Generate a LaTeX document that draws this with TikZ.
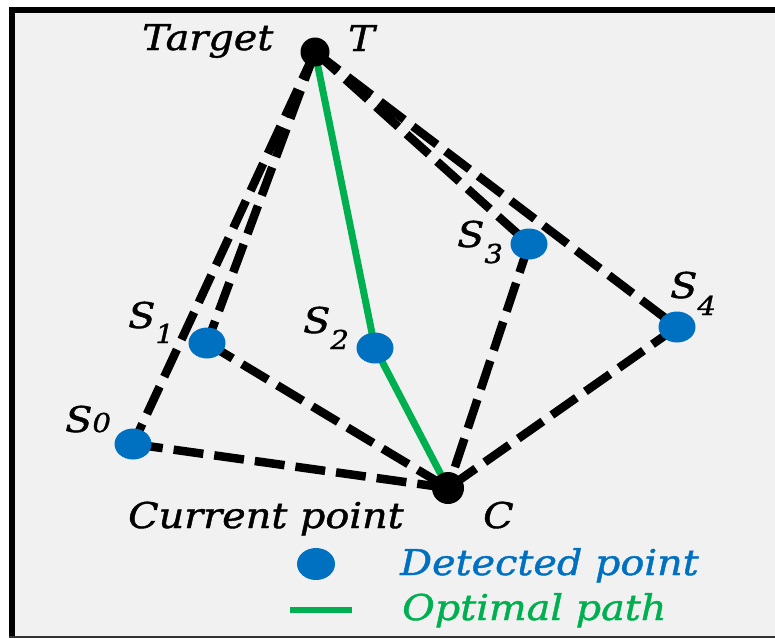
\documentclass[tikz,border=0pt]{standalone}
\usepackage{fontspec}
\setmainfont{DejaVu Serif}
\newfontfamily\lblfont{DejaVu Serif}[FakeStretch=1.12,FakeBold=1.2]
\usetikzlibrary{shapes.geometric}
\definecolor{bgc}{RGB}{241,241,241}
\definecolor{dotblue}{RGB}{0,112,192}
\definecolor{pathgreen}{RGB}{0,176,80}
\newcommand\subsz{\fontsize{26pt}{26pt}\selectfont}
\pgfdeclarelayer{bglayer}
\pgfdeclarelayer{lnlayer}
\pgfsetlayers{bglayer,lnlayer,main}
\tikzset{
  blackdot/.style={circle, fill=black, inner sep=0pt},
  bluedot/.style={ellipse, fill=dotblue, inner sep=0pt, minimum width=37pt, minimum height=31pt},
  dline/.style={line width=8.5pt, dash pattern=on 30pt off 11pt},
  gline/.style={line width=7pt, pathgreen},
  lbl/.style={inner sep=0pt, anchor=base west, font=\lblfont\itshape\fontsize{35.5pt}{36pt}\selectfont}
}
\begin{document}
\begin{tikzpicture}[x=1pt,y=-1pt]
\useasboundingbox (0,0) rectangle (775,638);
\begin{pgfonlayer}{bglayer}
\fill[white] (0,0) rectangle (775,638);
\fill[bgc] (9,7) rectangle (775,638);
\fill[black] (9,7) rectangle (15,638);
\fill[black] (9,7) rectangle (775,13);
\fill[black!80] (9,636) rectangle (775,638);
\end{pgfonlayer}
% points
\node[blackdot, minimum size=29pt] (T) at (315,52) {};
\node[blackdot, minimum size=32pt] (C) at (448,488) {};
\node[bluedot] (s0) at (133,444) {};
\node[bluedot] (s1) at (207,343) {};
\node[bluedot] (s2) at (375,348) {};
\node[bluedot] (s3) at (529,244) {};
\node[bluedot] (s4) at (677,327) {};
% connectors
\begin{pgfonlayer}{lnlayer}
\draw[dline] (T.center) -- (s0.center);
\draw[dline] (T.center) -- (s1.center);
\draw[dline] (T.center) -- (s3.center);
\draw[dline] (T.center) -- (s4.center);
\draw[dline] (s0.center) -- (C.center);
\draw[dline] (s1.center) -- (C.center);
\draw[dline] (s3.center) -- (C.center);
\draw[dline] (s4.center) -- (C.center);
\draw[gline] (T.center) -- (s2.center) -- (C.center);
\end{pgfonlayer}
% labels
\node[lbl] (tgt) at (142,50) {Target};
\node[lbl] (tl) at (348,51) {T};
\node[lbl] (cp) at (128,528) {Current point};
\node[lbl] (cl) at (483,528) {C};
\node[lbl] (l0) at (65,432) {S{\subsz 0}};
\node[lbl] (l1) at (128,328) {S\lower15pt\hbox{\subsz 1}};
\node[lbl] (l2) at (303,333) {S\lower16pt\hbox{\subsz 2}};
\node[lbl] (l3) at (457,247) {S\lower16pt\hbox{\subsz 3}};
\node[lbl] (l4) at (670,298) {S\lower17pt\hbox{\subsz 4}};
% legend
\node[bluedot, minimum height=32pt, minimum width=38pt] (ld) at (316,564) {};
\node[lbl, text=dotblue] (dp) at (400,575) {Detected point};
\coordinate (g1) at (290,610);
\coordinate (g2) at (352,610);
\draw[pathgreen, line width=6pt] (g1) -- (g2);
\node[lbl, text=pathgreen] (op) at (402,620) {Optimal path};
\end{tikzpicture}
\end{document}
